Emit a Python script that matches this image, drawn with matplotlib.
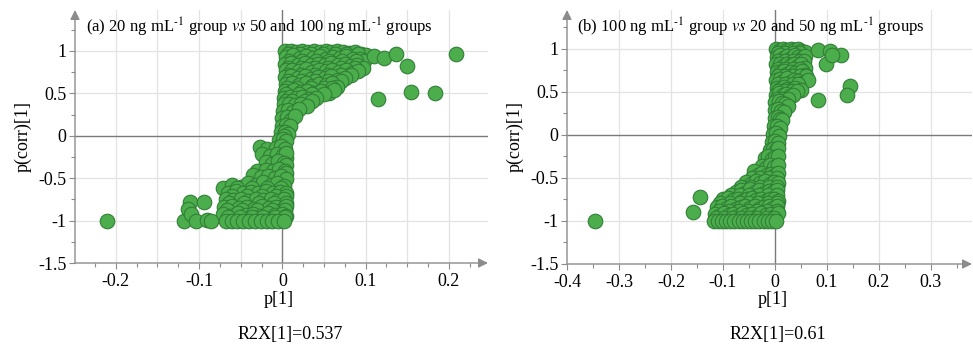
import matplotlib
matplotlib.use("Agg")
import matplotlib.pyplot as plt
from matplotlib.ticker import MultipleLocator

plt.rcParams['font.family'] = ['Liberation Serif', 'DejaVu Serif']
plt.rcParams['mathtext.fontset'] = 'stix'

W, H = 973, 349
FILL = '#4cad4c'
EDGE = '#2f7f35'
GRID = '#e3e3e3'
AXIS = '#8c8c8c'

# (a) 20 ng/mL vs 50 and 100 ng/mL : (p[1], p(corr)[1])
points_a = [
    (0.003, 1.0), (0.010, 1.0), (0.017, 0.99), (0.024, 1.0), (0.031, 0.99), (0.038, 1.0), (0.045, 0.99),
    (0.052, 1.0), (0.059, 0.99), (0.066, 1.0), (0.073, 0.99), (0.080, 0.98), (0.087, 0.99), (0.094, 0.97), (0.100, 0.95),
    (0.007, 0.96), (0.021, 0.96), (0.035, 0.96), (0.049, 0.96), (0.063, 0.96), (0.077, 0.96), (0.091, 0.96),
    (0.004, 0.93), (0.013, 0.95), (0.021, 0.92), (0.029, 0.94), (0.037, 0.92), (0.045, 0.94), (0.053, 0.91),
    (0.061, 0.93), (0.069, 0.92), (0.077, 0.94), (0.085, 0.90), (0.093, 0.91), (0.098, 0.88),
    (0.008, 0.88), (0.024, 0.88), (0.040, 0.88), (0.056, 0.88), (0.072, 0.88), (0.088, 0.88),
    (0.003, 0.85), (0.011, 0.86), (0.019, 0.84), (0.027, 0.86), (0.035, 0.83), (0.043, 0.85), (0.051, 0.84),
    (0.059, 0.86), (0.067, 0.83), (0.075, 0.85), (0.083, 0.82), (0.090, 0.84), (0.097, 0.80),
    (0.007, 0.80), (0.023, 0.80), (0.039, 0.80), (0.055, 0.80), (0.071, 0.80), (0.087, 0.80),
    (0.004, 0.77), (0.012, 0.78), (0.020, 0.76), (0.028, 0.79), (0.036, 0.75), (0.044, 0.77), (0.052, 0.76),
    (0.060, 0.78), (0.068, 0.75), (0.076, 0.77), (0.084, 0.74), (0.091, 0.76),
    (0.007, 0.72), (0.023, 0.72), (0.039, 0.72), (0.055, 0.72), (0.071, 0.72), (0.083, 0.72),
    (0.003, 0.69), (0.011, 0.70), (0.019, 0.68), (0.027, 0.71), (0.035, 0.67), (0.043, 0.69), (0.051, 0.68),
    (0.059, 0.70), (0.067, 0.66), (0.075, 0.68),
    (0.007, 0.64), (0.023, 0.64), (0.039, 0.64), (0.055, 0.64), (0.070, 0.64),
    (0.004, 0.61), (0.012, 0.62), (0.020, 0.60), (0.028, 0.62), (0.036, 0.59), (0.044, 0.61), (0.052, 0.60),
    (0.060, 0.62), (0.066, 0.58),
    (0.006, 0.56), (0.018, 0.56), (0.034, 0.56), (0.050, 0.56), (0.060, 0.56),
    (0.003, 0.53), (0.008, 0.50), (0.014, 0.54), (0.022, 0.52), (0.030, 0.53), (0.038, 0.51), (0.046, 0.53),
    (0.056, 0.51), (0.062, 0.54),
    (0.005, 0.49), (0.020, 0.49), (0.036, 0.49), (0.050, 0.49),
    (0.002, 0.45), (0.009, 0.46), (0.016, 0.44), (0.024, 0.46), (0.032, 0.43), (0.040, 0.45),
    (0.005, 0.41), (0.012, 0.41), (0.027, 0.41), (0.036, 0.41),
    (0.002, 0.37), (0.008, 0.38), (0.015, 0.36), (0.022, 0.38), (0.030, 0.35),
    (0.001, 0.29), (0.007, 0.30), (0.013, 0.28), (0.020, 0.31),
    (0.000, 0.21), (0.006, 0.22), (0.011, 0.19), (0.015, 0.23),
    (-0.001, 0.12), (0.004, 0.13), (0.009, 0.11),
    (-0.002, 0.04), (0.003, 0.05), (0.007, 0.02), (0.002, 0.0),
    (-0.004, -0.05), (0.001, -0.04), (0.005, -0.06),
    (-0.027, -0.13), (-0.018, -0.15), (-0.008, -0.14), (-0.002, -0.12), (0.003, -0.15),
    (-0.024, -0.22), (-0.015, -0.24), (-0.006, -0.21), (0.001, -0.23), (0.004, -0.26), (0.004, -0.20),
    (-0.020, -0.31), (-0.012, -0.33), (-0.005, -0.30), (0.002, -0.32), (0.004, -0.35),
    (-0.030, -0.41), (-0.020, -0.40), (-0.011, -0.42), (-0.004, -0.39), (0.003, -0.41), (0.005, -0.44),
    (-0.035, -0.46), (-0.026, -0.49), (-0.017, -0.47), (-0.009, -0.50), (-0.002, -0.48), (0.004, -0.51),
    (-0.071, -0.62), (-0.060, -0.58), (-0.050, -0.60), (-0.041, -0.56), (-0.032, -0.58), (-0.023, -0.55),
    (-0.014, -0.58), (-0.006, -0.56), (0.002, -0.59),
    (-0.055, -0.62), (-0.037, -0.62), (-0.018, -0.62), (-0.002, -0.62),
    (-0.065, -0.67), (-0.056, -0.65), (-0.047, -0.68), (-0.038, -0.66), (-0.029, -0.68), (-0.020, -0.65),
    (-0.011, -0.67), (-0.003, -0.66), (0.004, -0.68),
    (-0.060, -0.71), (-0.043, -0.71), (-0.025, -0.71), (-0.008, -0.71), (0.004, -0.71),
    (-0.068, -0.75), (-0.059, -0.76), (-0.050, -0.74), (-0.041, -0.77), (-0.032, -0.75), (-0.023, -0.76),
    (-0.014, -0.74), (-0.006, -0.77), (0.002, -0.75),
    (-0.064, -0.79), (-0.046, -0.79), (-0.028, -0.79), (-0.010, -0.79), (0.004, -0.79),
    (-0.070, -0.84), (-0.061, -0.83), (-0.052, -0.85), (-0.043, -0.84), (-0.034, -0.86), (-0.025, -0.83),
    (-0.016, -0.85), (-0.008, -0.84), (0.001, -0.86), (0.004, -0.83),
    (-0.066, -0.88), (-0.048, -0.88), (-0.030, -0.88), (-0.012, -0.88), (0.003, -0.88),
    (-0.071, -0.92), (-0.062, -0.94), (-0.053, -0.91), (-0.044, -0.93), (-0.035, -0.92), (-0.026, -0.94),
    (-0.017, -0.91), (-0.009, -0.93), (-0.001, -0.92), (0.004, -0.95),
    (-0.065, -0.96), (-0.051, -0.96), (-0.037, -0.96), (-0.023, -0.96), (-0.009, -0.96), (0.003, -0.96),
    (-0.068, -1.0), (-0.061, -1.0), (-0.054, -1.0), (-0.047, -1.0), (-0.040, -1.0), (-0.033, -1.0),
    (-0.026, -1.0), (-0.019, -1.0), (-0.012, -1.0), (-0.005, -1.0), (0.002, -1.0),
    (-0.118, -1.0), (-0.111, -0.78), (-0.113, -0.86), (-0.110, -0.92), (-0.104, -1.0), (-0.094, -0.78),
    (-0.090, -0.99), (-0.086, -1.0),
    (-0.2105, -1.0), (0.1096, 0.937), (0.1216, 0.92), (0.1369, 0.97), (0.150, 0.82), (0.2087, 0.97),
    (0.115, 0.43), (0.154, 0.52), (0.183, 0.50),
]

# (b) 100 ng/mL vs 20 and 50 ng/mL
points_b = [
    (0.002, 1.0), (0.009, 0.99), (0.016, 1.0), (0.023, 0.99), (0.030, 1.0), (0.037, 0.99), (0.044, 1.0),
    (0.051, 0.98), (0.058, 0.97),
    (0.006, 0.95), (0.020, 0.95), (0.034, 0.95), (0.048, 0.95),
    (0.003, 0.91), (0.010, 0.93), (0.017, 0.90), (0.024, 0.92), (0.031, 0.90), (0.038, 0.93), (0.045, 0.91),
    (0.052, 0.89), (0.058, 0.92),
    (0.006, 0.86), (0.020, 0.86), (0.034, 0.86), (0.048, 0.86), (0.055, 0.86),
    (0.002, 0.82), (0.009, 0.83), (0.016, 0.80), (0.023, 0.83), (0.030, 0.81), (0.037, 0.82), (0.044, 0.80),
    (0.051, 0.83), (0.057, 0.78),
    (0.006, 0.77), (0.020, 0.77), (0.034, 0.77), (0.048, 0.77),
    (0.003, 0.73), (0.010, 0.72), (0.017, 0.74), (0.024, 0.71), (0.031, 0.73), (0.038, 0.72), (0.045, 0.70),
    (0.052, 0.74), (0.058, 0.70),
    (0.006, 0.68), (0.020, 0.68), (0.034, 0.68), (0.048, 0.68), (0.060, 0.68),
    (0.002, 0.64), (0.009, 0.65), (0.016, 0.63), (0.023, 0.66), (0.030, 0.62), (0.037, 0.64), (0.044, 0.63),
    (0.052, 0.61), (0.063, 0.64),
    (0.006, 0.59), (0.020, 0.59), (0.034, 0.59), (0.045, 0.59),
    (0.003, 0.55), (0.010, 0.53), (0.017, 0.56), (0.024, 0.54), (0.031, 0.52), (0.038, 0.55), (0.050, 0.52),
    (0.005, 0.51), (0.019, 0.51), (0.032, 0.51), (0.043, 0.51),
    (0.002, 0.47), (0.008, 0.49), (0.015, 0.46), (0.022, 0.48), (0.029, 0.45), (0.035, 0.47),
    (0.004, 0.42), (0.016, 0.42), (0.026, 0.42),
    (0.001, 0.38), (0.007, 0.39), (0.013, 0.37), (0.020, 0.36), (0.026, 0.34),
    (0.001, 0.29), (0.006, 0.30), (0.012, 0.28), (0.018, 0.27),
    (0.000, 0.20), (0.005, 0.21), (0.010, 0.19), (0.014, 0.17),
    (-0.001, 0.10), (0.004, 0.11), (0.009, 0.08),
    (-0.003, 0.01), (0.002, 0.02), (0.007, -0.01),
    (-0.006, -0.08), (0.000, -0.07), (0.005, -0.09),
    (-0.010, -0.17), (-0.004, -0.16), (0.002, -0.18), (0.006, -0.15),
    (-0.020, -0.27), (-0.013, -0.25), (-0.006, -0.28), (0.001, -0.26), (0.006, -0.24),
    (-0.025, -0.36), (-0.017, -0.38), (-0.009, -0.35), (-0.002, -0.37), (0.005, -0.35),
    (-0.040, -0.42), (-0.032, -0.46), (-0.024, -0.44), (-0.016, -0.47), (-0.008, -0.45), (0.000, -0.46), (0.005, -0.44),
    (-0.045, -0.50), (-0.028, -0.50), (-0.012, -0.50), (0.003, -0.50),
    (-0.055, -0.55), (-0.046, -0.57), (-0.037, -0.53), (-0.028, -0.56), (-0.019, -0.54), (-0.010, -0.57),
    (-0.002, -0.55), (0.005, -0.56),
    (-0.065, -0.60), (-0.047, -0.60), (-0.029, -0.60), (-0.011, -0.60), (0.003, -0.60),
    (-0.075, -0.66), (-0.066, -0.64), (-0.057, -0.67), (-0.048, -0.63), (-0.039, -0.66), (-0.030, -0.64),
    (-0.021, -0.67), (-0.012, -0.65), (-0.004, -0.66), (0.004, -0.64),
    (-0.085, -0.70), (-0.067, -0.70), (-0.049, -0.70), (-0.031, -0.70), (-0.013, -0.70), (0.003, -0.70),
    (-0.100, -0.75), (-0.090, -0.73), (-0.081, -0.76), (-0.072, -0.74), (-0.063, -0.77), (-0.054, -0.75),
    (-0.045, -0.73), (-0.036, -0.76), (-0.027, -0.74), (-0.018, -0.77), (-0.009, -0.75), (-0.001, -0.74), (0.005, -0.77),
    (-0.105, -0.79), (-0.086, -0.79), (-0.068, -0.79), (-0.050, -0.79), (-0.032, -0.79), (-0.014, -0.79), (0.003, -0.79),
    (-0.112, -0.84), (-0.102, -0.82), (-0.093, -0.85), (-0.084, -0.83), (-0.075, -0.86), (-0.066, -0.84),
    (-0.057, -0.82), (-0.048, -0.85), (-0.039, -0.83), (-0.030, -0.86), (-0.021, -0.84), (-0.012, -0.82),
    (-0.004, -0.85), (0.004, -0.83),
    (-0.108, -0.88), (-0.089, -0.88), (-0.070, -0.88), (-0.052, -0.88), (-0.034, -0.88), (-0.016, -0.88), (0.003, -0.88),
    (-0.116, -0.92), (-0.107, -0.94), (-0.098, -0.91), (-0.089, -0.93), (-0.080, -0.92), (-0.071, -0.94),
    (-0.062, -0.91), (-0.053, -0.93), (-0.044, -0.92), (-0.035, -0.94), (-0.026, -0.91), (-0.017, -0.93),
    (-0.008, -0.92), (0.001, -0.94), (0.005, -0.91),
    (-0.114, -0.96), (-0.098, -0.96), (-0.082, -0.96), (-0.066, -0.96), (-0.050, -0.96), (-0.034, -0.96),
    (-0.018, -0.96), (-0.002, -0.96),
    (-0.118, -1.0), (-0.110, -1.0), (-0.102, -1.0), (-0.094, -1.0), (-0.086, -1.0), (-0.078, -1.0),
    (-0.070, -1.0), (-0.062, -1.0), (-0.054, -1.0), (-0.046, -1.0), (-0.038, -1.0), (-0.030, -1.0),
    (-0.022, -1.0), (-0.014, -1.0), (-0.006, -1.0), (0.002, -1.0),
    (-0.346, -1.0), (-0.158, -0.89), (-0.144, -0.72), (0.083, 0.99), (0.105, 0.98), (0.099, 0.83),
    (0.127, 0.93), (0.109, 0.93), (0.082, 0.41), (0.144, 0.57), (0.138, 0.47),
]

titles = [r'(a) 20 ng mL$^{\text{-1}}$ group $vs$ 50 and 100 ng mL$^{\text{-1}}$ groups',
          r'(b) 100 ng mL$^{\text{-1}}$ group $vs$ 20 and 50 ng mL$^{\text{-1}}$ groups']
r2x = ['R2X[1]=0.537', 'R2X[1]=0.61']
xlims = [(-0.249, 0.247), (-0.4, 0.379)]
ylims = [(-1.5, 1.483), (-1.5, 1.453)]
xticks = [[-0.2, -0.1, 0, 0.1, 0.2], [-0.4, -0.3, -0.2, -0.1, 0, 0.1, 0.2, 0.3]]
xminor = [0.025, 0.05]
xgrid = [0.05, 0.1]

# pixel boxes: left, right, top, bottom
boxes = [(75, 488, 10, 263), (567, 972, 10, 264)]

fig = plt.figure(figsize=(W / 100, H / 100), dpi=100)

for i, pts in enumerate([points_a, points_b]):
    l, r, t, b = boxes[i]
    ax = fig.add_axes([l / W, (H - b) / H, (r - l) / W, (b - t) / H])
    ax.set_xlim(*xlims[i])
    ax.set_ylim(*ylims[i])

    xs = [p[0] for p in pts]
    ys = [p[1] for p in pts]

    # grid
    g = xgrid[i]
    k = int(xlims[i][0] / g) - 1
    while k * g <= xlims[i][1]:
        if abs(k * g) > 1e-9 and k * g > xlims[i][0]:
            ax.axvline(k * g, color=GRID, lw=0.9, zorder=0)
        k += 1
    for yv in [-1, -0.5, 0.5, 1]:
        ax.axhline(yv, color=GRID, lw=0.9, zorder=0)
    ax.axhline(0, color='#7a7a7a', lw=1.0, zorder=1)
    ax.axvline(0, color='#7a7a7a', lw=1.0, zorder=1)

    ax.scatter(xs, ys, s=110, c=FILL, edgecolors=EDGE, linewidths=0.8, zorder=3, clip_on=False)

    for s in ['top', 'right', 'left', 'bottom']:
        ax.spines[s].set_visible(False)
    ax.annotate('', xy=(1.0, 0), xytext=(0, 0), xycoords='axes fraction',
                arrowprops=dict(arrowstyle='-|>', color=AXIS, lw=1.0, mutation_scale=14,
                                shrinkA=0, shrinkB=0))
    ax.annotate('', xy=(0, 1.0), xytext=(0, 0), xycoords='axes fraction',
                arrowprops=dict(arrowstyle='-|>', color=AXIS, lw=1.0, mutation_scale=14,
                                shrinkA=0, shrinkB=0))

    ax.set_xticks(xticks[i])
    ax.set_xticklabels(['%g' % v for v in xticks[i]])
    ax.xaxis.set_minor_locator(MultipleLocator(xminor[i]))
    ax.set_yticks([-1.5, -1, -0.5, 0, 0.5, 1])
    ax.set_yticklabels(['-1.5', '-1', '-0.5', '0', '0.5', '1'])
    ax.yaxis.set_minor_locator(MultipleLocator(0.25))
    ax.tick_params(axis='both', which='major', labelsize=13, length=4, width=0.8,
                   color=AXIS, direction='out', pad=2)
    ax.tick_params(axis='both', which='minor', length=3, width=0.8, color=AXIS, direction='out')
    ax.tick_params(axis='x', pad=3)

    ax.set_facecolor('none')

    # labels
    fig.text((l - 52) / W, (H - 136) / H, 'p(corr)[1]', rotation=90, fontsize=13,
             ha='center', va='center')
    xc = [279, 773][i]
    fig.text(xc / W, (H - 300) / H, 'p[1]', fontsize=13, ha='center', va='center')
    rc = [290, 778][i]
    fig.text(rc / W, (H - 334) / H, r2x[i], fontsize=13, ha='center', va='center')
    tx = [86, 577][i]
    fig.text(tx / W, (H - 27) / H, titles[i], fontsize=12, ha='left', va='center')

fig.savefig('out.png', dpi=100)
